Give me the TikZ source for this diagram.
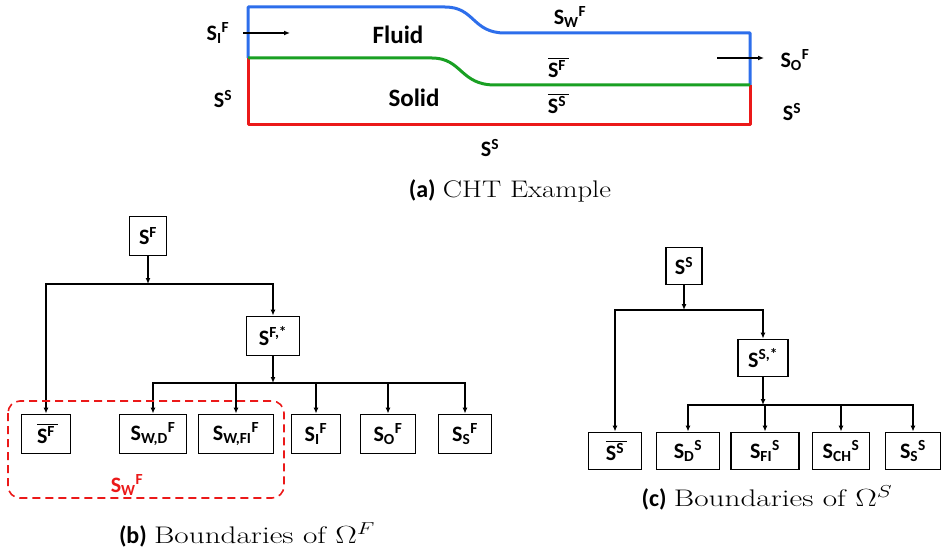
\documentclass[tikz,border=0pt]{standalone}
\usepackage{fontspec}
\usepackage{graphicx}
\setsansfont{Carlito}
\usetikzlibrary{arrows.meta}
\definecolor{wallblue}{RGB}{45,110,235}
\definecolor{ifgreen}{RGB}{25,160,35}
\definecolor{solred}{RGB}{235,25,25}
\newcommand{\barS}{\rlap{\rule[0.84em]{0.95em}{1.6pt}}S}
\tikzset{
  lbl/.style={font=\sffamily\bfseries\fontsize{22}{25}\selectfont, inner sep=0pt},
  region/.style={font=\sffamily\bfseries\fontsize{25}{28}\selectfont, inner sep=0pt},
  bnd/.style={draw, line width=1.8pt, font=\sffamily\bfseries\fontsize{22}{25}\selectfont,
    minimum height=39pt, inner sep=0pt},
  arr/.style={-{Latex[length=6pt,width=5pt]}, line width=1.4pt},
  wall/.style={line width=3pt, line join=round},
  captxt/.style={font=\fontsize{24}{28}\selectfont, inner sep=0pt}
}
\begin{document}
\begin{tikzpicture}[x=1pt,y=-1pt]
\useasboundingbox (0,0) rectangle (942,559);
% CHT example
\draw[wallblue, wall] (248,58) -- (248,7) -- (445,7) .. controls (475,7) and (472,33) .. (505,33) -- (750,33) -- (750,85);
\draw[solred, wall] (248,58) -- (248,125) -- (750,125) -- (750,85);
\draw[ifgreen, wall] (248,58) -- (432,58) .. controls (462,58) and (460,85) .. (495,85) -- (750,85);
\node[lbl] (inlet) at (218,33) {S\textsubscript{I}\textsuperscript{F}};
\coordinate (inA) at (243,33);
\coordinate (inB) at (290,33);
\draw[arr] (inA) -- (inB);
\node[region] (fluid) at (398,35) {Fluid};
\node[region] (solid) at (414,98) {Solid};
\node[lbl] (leftS) at (223,99) {S\textsuperscript{S}};
\node[lbl] (wallF) at (570,17) {S\textsubscript{W}\textsuperscript{F}};
\node[lbl] (ifF) at (557,68) {\barS\textsuperscript{F}};
\node[lbl] (ifS) at (557,104) {\barS\textsuperscript{S}};
\coordinate (outA) at (717,58);
\coordinate (outB) at (764,58);
\draw[arr] (outA) -- (outB);
\node[lbl] (outlet) at (795,60) {S\textsubscript{O}\textsuperscript{F}};
\node[lbl] (rightS) at (792,112) {S\textsuperscript{S}};
\node[lbl] (bottomS) at (490,148) {S\textsuperscript{S}};
\node[captxt] (capa) at (510,191) {\textsf{\bfseries (a)} \scalebox{1.2}[1]{CHT Example}};
% Boundaries of the fluid
\node[bnd, minimum width=37pt] (sF) at (148,236) {S\textsuperscript{F}};
\node[bnd, minimum width=53pt] (sFs) at (273,336) {S\textsuperscript{F,*}};
\node[bnd, minimum width=49pt] (sFbar) at (46,434) {\barS\textsuperscript{F}};
\node[bnd, minimum width=67pt] (sWD) at (153,434) {S\textsubscript{W,D}\textsuperscript{F}};
\node[bnd, minimum width=75pt] (sWFI) at (236,434) {S\textsubscript{W,FI}\textsuperscript{F}};
\node[bnd, minimum width=49pt] (sIF) at (316,434) {S\textsubscript{I}\textsuperscript{F}};
\node[bnd, minimum width=55pt] (sOF) at (388,434) {S\textsubscript{O}\textsuperscript{F}};
\node[bnd, minimum width=53pt] (sSF) at (465,434) {S\textsubscript{S}\textsuperscript{F}};
\coordinate (fj) at (148,284);
\coordinate (fj2) at (273,383);
\draw[arr] (sF) -- (fj);
\draw[arr] (fj) -| (sFbar);
\draw[arr] (fj) -| (sFs);
\draw[arr] (sFs) -- (fj2);
\foreach \n in {sWD,sWFI,sIF,sOF,sSF}
  \draw[arr] (fj2) -| (\n);
\draw[solred, line width=1.6pt, dash pattern=on 8pt off 5pt, rounded corners=12pt] (8,401) rectangle (284,498);
\node[lbl, text=solred] (wallgrp) at (127,485) {S\textsubscript{W}\textsuperscript{F}};
\node[captxt] (capb) at (247,535) {\textsf{\bfseries (b)} \scalebox{1.3}[1]{Boundaries of $\Omega^F$}};
% Boundaries of the solid
\node[bnd, minimum width=36pt, minimum height=37pt] (sS) at (684,266) {S\textsuperscript{S}};
\node[bnd, minimum width=50pt, minimum height=37pt] (sSs) at (763,358) {S\textsuperscript{S,*}};
\node[bnd, minimum width=53pt, minimum height=37pt] (sSbar) at (615,451) {\barS\textsuperscript{S}};
\node[bnd, minimum width=63pt, minimum height=37pt] (sDS) at (688,451) {S\textsubscript{D}\textsuperscript{S}};
\node[bnd, minimum width=68pt, minimum height=37pt] (sFIS) at (765,451) {S\textsubscript{FI}\textsuperscript{S}};
\node[bnd, minimum width=57pt, minimum height=37pt] (sCHS) at (841,451) {S\textsubscript{CH}\textsuperscript{S}};
\node[bnd, minimum width=55pt, minimum height=37pt] (sSS) at (913,451) {S\textsubscript{S}\textsuperscript{S}};
\coordinate (sj) at (684,310);
\coordinate (sj2) at (763,405);
\draw[arr] (sS) -- (sj);
\draw[arr] (sj) -| (sSbar);
\draw[arr] (sj) -| (sSs);
\draw[arr] (sSs) -- (sj2);
\foreach \n in {sDS,sFIS,sCHS,sSS}
  \draw[arr] (sj2) -| (\n);
\node[captxt] (capc) at (767,498) {\textsf{\bfseries (c)} \scalebox{1.3}[1]{Boundaries of $\Omega^S$}};
\end{tikzpicture}
\end{document}
